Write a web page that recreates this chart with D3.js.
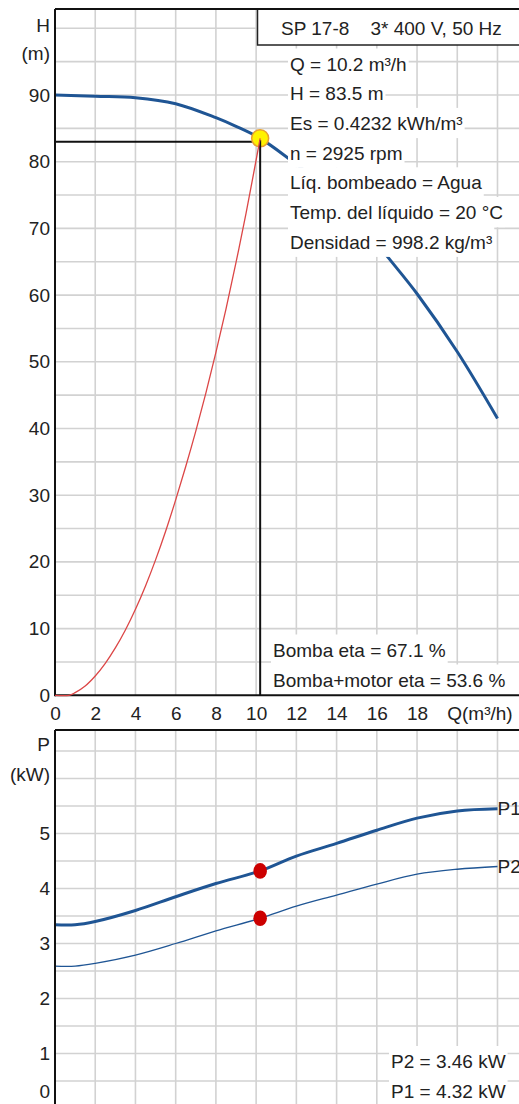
<html>
<head>
<meta charset="utf-8">
<title>SP 17-8 curva</title>
<style>
  body { margin: 0; background: #fff; }
  text { font-family: "Liberation Sans", Arial, sans-serif; font-size: 19px; fill: #222; }
</style>
</head>
<body>
<script src="https://cdn.jsdelivr.net/npm/d3@7"></script>
<script>

var width  = 519;
var height = 1104;

// ticks
var qTicks = [0, 2, 4, 6, 8, 10, 12, 14, 16, 18];
var hTicks = [0, 10, 20, 30, 40, 50, 60, 70, 80, 90];
var pTicks = [0, 1, 2, 3, 4, 5];

// curva de la bomba Q-H
var pumpQ = [0, 2, 4, 6, 8, 9, 10.2, 11.7, 13, 14, 15, 16.6, 18, 20, 22];
var pumpH = [90.0, 89.8, 89.6, 88.7, 86.6, 85.3, 83.5, 80.3, 77.3, 74.6, 71.5, 65.5, 60.2, 51.5, 41.5];

// curva del sistema
var sysQ = [0, 0.7, 1, 1.5, 2, 2.5, 3, 3.5, 4, 4.5, 5, 5.5, 6, 6.5, 7, 7.5, 8, 8.5, 9, 9.5, 10.2];
var sysH = [0, 0, 0.4, 1.4, 2.9, 4.8, 7.1, 9.8, 12.9, 16.4, 20.3, 24.6, 29.3, 34.3, 39.6, 45.3, 51.4, 57.9, 64.9, 72.3, 83.5];

// potencias
var powerQ = [0, 1, 2, 4, 6, 8, 10.2, 12, 14, 16, 18, 20, 22];
var p1 = [3.34, 3.34, 3.40, 3.60, 3.85, 4.09, 4.32, 4.59, 4.82, 5.06, 5.28, 5.41, 5.45];
var p2 = [2.59, 2.59, 2.64, 2.79, 3.00, 3.23, 3.46, 3.68, 3.88, 4.08, 4.26, 4.35, 4.40];

// punto de trabajo
var dutyQ = 10.2, dutyH = 83.5, dutyP1 = 4.32, dutyP2 = 3.46;

var title = "SP 17-8    3* 400 V, 50 Hz";
var infoLines = ["Q = 10.2 m³/h", "H = 83.5 m", "Es = 0.4232 kWh/m³", "n = 2925 rpm",
                 "Líq. bombeado = Agua", "Temp. del líquido = 20 °C", "Densidad = 998.2 kg/m³"];
var etaLines = ["Bomba eta = 67.1 %", "Bomba+motor eta = 53.6 %"];
var powerLines = ["P2 = 3.46 kW", "P1 = 4.32 kW"];

var svg = d3.select("body").append("svg")
            .attr("width", width)
            .attr("height", height);

var x  = d3.scaleLinear().domain([0, 22]).range([55, 497.5]);
var yH = d3.scaleLinear().domain([0, 90]).range([695.3, 95]);
var yP = d3.scaleLinear().domain([0, 5]).range([1108.5, 833.5]);

var topY = 9, axisY = 695.3, botTop = 730;

// rejilla
var grid = svg.append("g").attr("stroke", "#d2d2d2").attr("stroke-width", 1.6);
var gridQ = d3.range(2, 26, 2);
grid.selectAll(".vt").data(gridQ).enter().append("line")
    .attr("x1", d => x(d)).attr("x2", d => x(d))
    .attr("y1", topY).attr("y2", axisY);
grid.selectAll(".hv").data(d3.range(5, 105, 5).filter(d => yH(d) > topY)).enter().append("line")
    .attr("x1", 55).attr("x2", width)
    .attr("y1", d => yH(d)).attr("y2", d => yH(d));
grid.selectAll(".vb").data(gridQ).enter().append("line")
    .attr("x1", d => x(d)).attr("x2", d => x(d))
    .attr("y1", botTop).attr("y2", height);
grid.selectAll(".hb").data(d3.range(0.5, 7, 0.5).filter(d => yP(d) > botTop && yP(d) < height)).enter().append("line")
    .attr("x1", 55).attr("x2", width)
    .attr("y1", d => yP(d)).attr("y2", d => yP(d));

// curvas
var lineH = d3.line().x(d => x(d[0])).y(d => yH(d[1])).curve(d3.curveCatmullRom);
var lineP = d3.line().x(d => x(d[0])).y(d => yP(d[1])).curve(d3.curveCatmullRom);

svg.append("path")
   .attr("d", lineH(d3.zip(pumpQ, pumpH)))
   .attr("fill", "none").attr("stroke", "#1f5594").attr("stroke-width", 3);

// lineas del punto de trabajo
svg.append("line")
   .attr("x1", 55).attr("x2", x(dutyQ))
   .attr("y1", yH(83)).attr("y2", yH(83))
   .attr("stroke", "#111").attr("stroke-width", 2);
svg.append("circle")
   .attr("cx", x(dutyQ)).attr("cy", yH(dutyH)).attr("r", 8.5)
   .attr("fill", "#fff200").attr("stroke", "#e8a030").attr("stroke-width", 1.5);
svg.append("line")
   .attr("x1", x(dutyQ)).attr("x2", x(dutyQ))
   .attr("y1", yH(dutyH) + 2).attr("y2", axisY)
   .attr("stroke", "#111").attr("stroke-width", 2);

svg.append("path")
   .attr("d", lineP(d3.zip(powerQ, p1)))
   .attr("fill", "none").attr("stroke", "#1f5594").attr("stroke-width", 3);
svg.append("path")
   .attr("d", lineP(d3.zip(powerQ, p2)))
   .attr("fill", "none").attr("stroke", "#1f5594").attr("stroke-width", 1.3);

svg.selectAll(".dot").data([dutyP1, dutyP2]).enter().append("ellipse")
   .attr("cx", x(dutyQ)).attr("cy", d => yP(d))
   .attr("rx", 6.8).attr("ry", 7.8)
   .attr("fill", "#cc0000");

svg.append("text").attr("x", x(22)).attr("y", yP(p1[p1.length - 1])).attr("dy", "0.35em").text("P1");
svg.append("text").attr("x", x(22)).attr("y", yP(p2[p2.length - 1])).attr("dy", "0.35em").text("P2");

// textos con fondo blanco
function textLines(lines, x0, y0, step) {
    lines.forEach(function(s, i) {
        var g = svg.append("g");
        var r = g.append("rect").attr("fill", "#fff");
        var t = g.append("text").attr("x", x0).attr("y", y0 + i * step).text(s);
        var w = t.node().getComputedTextLength();
        r.attr("x", x0 - 2).attr("y", y0 + i * step - 22).attr("width", w + 4).attr("height", step + 0.5);
    });
}
textLines(infoLines, 290, 70.5, 29.7);
textLines(etaLines, 273, 656.5, 30);
textLines(powerLines, 391, 1068, 30);

// caja del titulo
svg.append("rect")
   .attr("x", 257.5).attr("y", topY).attr("width", 300).attr("height", 36)
   .attr("fill", "#fff").attr("stroke", "#222").attr("stroke-width", 1.5);
svg.append("text").attr("x", 281).attr("y", 35)
   .style("white-space", "pre").text(title);

// marcos
var frame = svg.append("g").attr("stroke", "#111").attr("stroke-width", 2);
frame.append("line").attr("x1", 55).attr("x2", width).attr("y1", topY).attr("y2", topY);
frame.append("line").attr("x1", 55).attr("x2", 55).attr("y1", topY).attr("y2", axisY + 1);
frame.append("line").attr("x1", 55).attr("x2", width).attr("y1", axisY).attr("y2", axisY);
frame.append("line").attr("x1", 55).attr("x2", width).attr("y1", botTop).attr("y2", botTop);
frame.append("line").attr("x1", 55).attr("x2", 55).attr("y1", botTop).attr("y2", height);

// curva del sistema, encima del eje
svg.append("path")
   .attr("d", lineH(d3.zip(sysQ, sysH)))
   .attr("fill", "none").attr("stroke", "#dc4646").attr("stroke-width", 1.3);

// ejes
function styleAxis(g) {
    g.select(".domain").remove();
    g.attr("font-size", 19).attr("font-family", "Liberation Sans, Arial, sans-serif");
    g.selectAll("text").attr("fill", "#222");
}

svg.append("g")
   .attr("transform", "translate(55,0)")
   .call(d3.axisLeft(yH).tickValues(hTicks).tickSize(0).tickPadding(5))
   .call(styleAxis);

svg.append("g")
   .attr("transform", "translate(0," + axisY + ")")
   .call(d3.axisBottom(x).tickValues(qTicks).tickSize(0).tickPadding(11))
   .call(styleAxis);

var pAxis = svg.append("g")
   .attr("transform", "translate(55,0)")
   .call(d3.axisLeft(yP).tickValues(pTicks).tickFormat(d3.format("d")).tickSize(0).tickPadding(5))
   .call(styleAxis);
// el 0 queda fuera de la imagen, se sube
pAxis.selectAll(".tick").filter(d => d === 0).attr("transform", "translate(0,1092)");

svg.append("text").attr("x", x(20) - 10).attr("y", 720).text("Q(m³/h)");
svg.append("text").attr("x", 50).attr("y", 31.5).attr("text-anchor", "end").text("H");
svg.append("text").attr("x", 50).attr("y", 60).attr("text-anchor", "end").text("(m)");
svg.append("text").attr("x", 50).attr("y", 751).attr("text-anchor", "end").text("P");
svg.append("text").attr("x", 50).attr("y", 781).attr("text-anchor", "end").text("(kW)");

</script>
</body>
</html>
